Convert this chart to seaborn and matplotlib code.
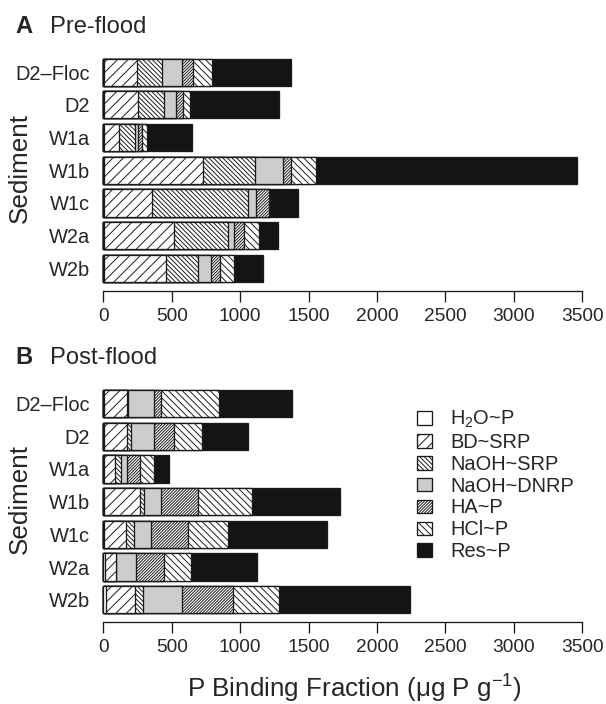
import numpy as np
import matplotlib
matplotlib.use('Agg')
import matplotlib.pyplot as plt
import seaborn as sns
from matplotlib.patches import Patch

# sitios y fracciones de fosforo
sites = ['D2–Floc', 'D2', 'W1a', 'W1b', 'W1c', 'W2a', 'W2b']
fractions = ['H$_2$O~P', 'BD~SRP', 'NaOH~SRP', 'NaOH~DNRP', 'HA~P', 'HCl~P', 'Res~P']

# A: pre-flood (ug P / g)
pre_h2o = [5, 5, 3, 5, 5, 5, 5]
pre_bd = [241, 247, 110, 725, 354, 510, 453]
pre_naoh_srp = [184, 192, 119, 376, 696, 399, 235]
pre_naoh_dnrp = [147, 85, 20, 210, 60, 40, 91]
pre_ha = [79, 51, 31, 56, 99, 76, 71]
pre_hcl = [136, 54, 34, 184, 6, 107, 101]
pre_res = [580, 651, 331, 1907, 200, 142, 213]

# B: post-flood
post_h2o = [4, 4, 3, 4, 4, 14, 20]
post_bd = [166, 171, 82, 262, 163, 77, 212]
post_naoh_srp = [14, 29, 42, 28, 54, 5, 57]
post_naoh_dnrp = [184, 169, 43, 130, 124, 144, 288]
post_ha = [56, 142, 99, 266, 277, 204, 368]
post_hcl = [425, 209, 99, 397, 289, 195, 340]
post_res = [529, 331, 110, 645, 722, 484, 956]

x_ticks = [0, 500, 1000, 1500, 2000, 2500, 3000, 3500]

fills = ['white', 'white', 'white', '#cdcdcd', 'white', 'white', '#141414']
hatches = ['', '/' * 4, '\\' * 9, '', '/' * 14, '\\' * 6, '']
edge = '#1a1a1a'

sns.set_style('white')
plt.rcParams['font.family'] = ['Liberation Sans', 'DejaVu Sans']
plt.rcParams['mathtext.fontset'] = 'custom'
plt.rcParams['mathtext.rm'] = 'Liberation Sans'
plt.rcParams['mathtext.it'] = 'Liberation Sans:italic'
plt.rcParams['hatch.linewidth'] = 0.55

W, H = 606, 704
fig = plt.figure(figsize=(W / 125, H / 125), dpi=125)


def panel(ax, parts):
    cum = np.cumsum(np.array(parts), axis=0)
    # barras acumuladas, de la mas larga a la mas corta
    for k in range(len(fractions) - 1, -1, -1):
        sns.barplot(x=cum[k], y=sites, orient='h', color=fills[k],
                    hatch=hatches[k], saturation=1, edgecolor=edge,
                    linewidth=0.75, width=0.83, errorbar=None, ax=ax)
    for p in ax.patches:
        p.set_clip_on(False)
    ax.set_xlim(0, 3500)
    ax.set_ylim(6.68, -0.88)
    ax.set_xticks(x_ticks)
    ax.set_xticklabels([str(t) for t in x_ticks])
    for s in ['top', 'right', 'left']:
        ax.spines[s].set_visible(False)
    ax.spines['bottom'].set_linewidth(0.75)
    ax.spines['bottom'].set_color(edge)
    ax.tick_params(axis='x', length=6.3, width=0.75, pad=3.5,
                   labelsize=11, color=edge, bottom=True)
    ax.tick_params(axis='y', length=0, pad=7.5, labelsize=11.5)
    ax.set_xlabel('')
    ax.set_ylabel('')


ax_a = fig.add_axes([103.3 / W, 1 - 290.6 / H, 479 / W, 247.2 / H])
ax_b = fig.add_axes([103.3 / W, 1 - 622 / H, 479 / W, 247.2 / H])

panel(ax_a, [pre_h2o, pre_bd, pre_naoh_srp, pre_naoh_dnrp, pre_ha, pre_hcl, pre_res])
panel(ax_b, [post_h2o, post_bd, post_naoh_srp, post_naoh_dnrp, post_ha, post_hcl, post_res])

# titulos de los paneles
for dy, letter, name in [(0, 'A', 'Pre-flood'), (331.3, 'B', 'Post-flood')]:
    fig.text(15 / W, 1 - (32.6 + dy) / H, letter, fontweight='bold',
             fontsize=13.7, va='baseline', ha='left')
    fig.text(50 / W, 1 - (32.6 + dy) / H, name, fontsize=13.7,
             va='baseline', ha='left')
    fig.text(20 / W, 1 - (168 + dy) / H, 'Sediment', fontsize=15,
             rotation=90, va='center', ha='center')

fig.text(354 / W, 1 - 698 / H, 'P Binding Fraction (μg P g$^{-1}$)',
         fontsize=15, ha='center', va='baseline')

handles = [Patch(facecolor=fills[k], hatch=hatches[k], edgecolor=edge,
                 linewidth=0.75, label=fractions[k]) for k in range(len(fractions))]
ax_b.legend(handles=handles, loc='upper left',
            bbox_to_anchor=(417 / W, 1 - 409 / H), bbox_transform=fig.transFigure,
            frameon=False, fontsize=11.5, handlelength=0.75, handleheight=0.65,
            handletextpad=0.9, labelspacing=0.14, borderpad=0, borderaxespad=0)

fig.savefig('out.png', dpi=125)
